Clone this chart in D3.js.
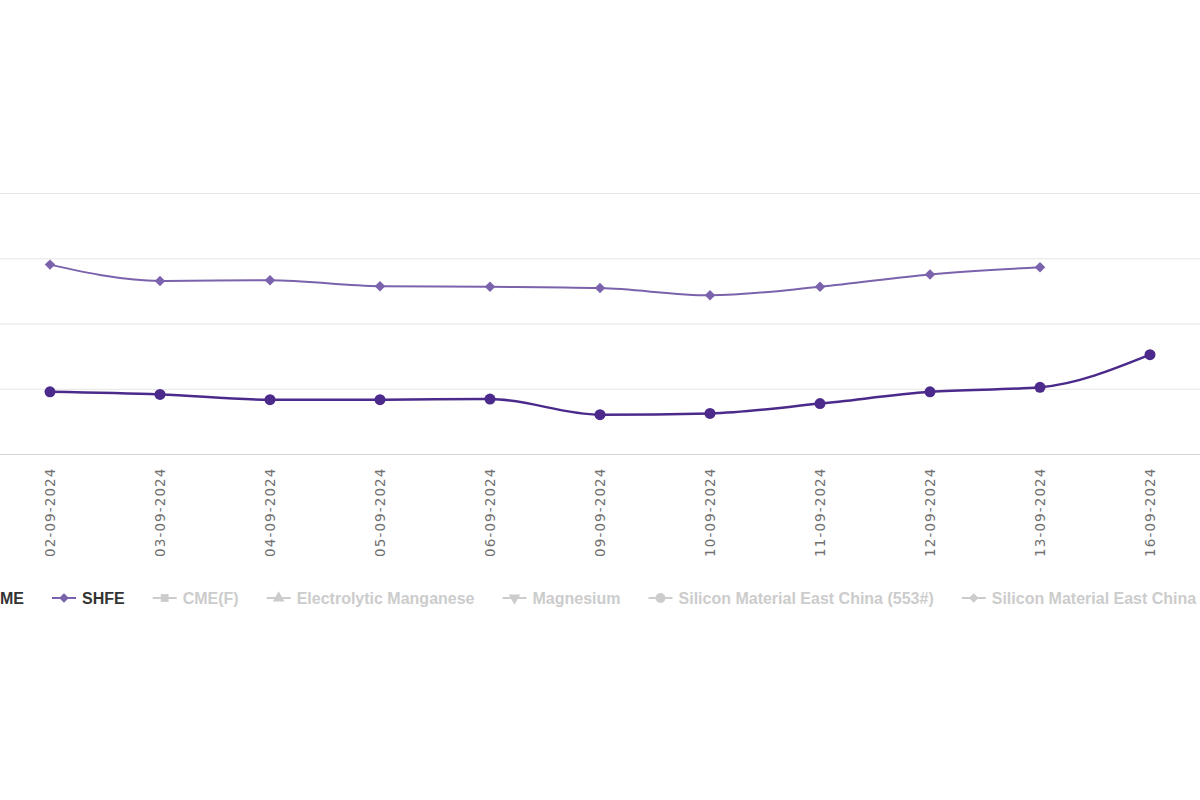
<!DOCTYPE html>
<html lang="en">
<head>
    <meta charset="UTF-8">
    <title>LME / SHFE</title>
    <script src="https://cdn.jsdelivr.net/npm/d3@7/dist/d3.min.js"></script>
    <style>
        html, body { margin: 0; padding: 0; background: #fff; overflow: hidden; }
        svg { display: block; }
    </style>
</head>
<body>

<script>
    // data (y units: one gridline step = 1)
    var dates = ["02-09-2024", "03-09-2024", "04-09-2024", "05-09-2024", "06-09-2024",
        "09-09-2024", "10-09-2024", "11-09-2024", "12-09-2024", "13-09-2024", "16-09-2024"];
    var lmeValues = [0.96, 0.92, 0.84, 0.84, 0.85, 0.61, 0.63, 0.78, 0.96, 1.03, 1.53];
    var shfeValues = [2.91, 2.66, 2.67, 2.58, 2.57, 2.55, 2.44, 2.57, 2.76, 2.87, null];
    var yTicks = [0, 1, 2, 3, 4];
    var legendNames = ["LME", "SHFE", "CME(F)", "Electrolytic Manganese", "Magnesium",
        "Silicon Material East China (553#)", "Silicon Material East China (441#)"];
    var legendActive = [true, true, false, false, false, false, false];

    var width = 1200;
    var height = 800;

    var svg = d3.select("body").append("svg")
        .attr("width", width)
        .attr("height", height);

    var x = d3.scalePoint()
        .domain(dates)
        .range([50, 1150]);

    var y = d3.scaleLinear()
        .domain([0, 4])
        .range([454.5, 193.5]);

    // gridlines
    svg.append("g")
        .selectAll("line")
        .data(yTicks.slice(1))
        .enter()
        .append("line")
        .attr("x1", 0)
        .attr("x2", width)
        .attr("y1", function (d) { return y(d); })
        .attr("y2", function (d) { return y(d); })
        .attr("stroke", "#e6e6e6")
        .attr("stroke-width", 1.2);

    // x axis
    var xAxis = d3.axisBottom(x).tickSize(0).tickPadding(0);
    var gx = svg.append("g")
        .attr("transform", "translate(0," + y(0) + ")")
        .call(xAxis);
    gx.select(".domain").remove();
    gx.append("line")
        .attr("x1", 0)
        .attr("x2", width)
        .attr("stroke", "#d4d4d4")
        .attr("stroke-width", 1.2);
    gx.selectAll(".tick text")
        .attr("transform", "rotate(-90)")
        .attr("x", -13)
        .attr("y", 0)
        .attr("dy", "0.35em")
        .style("text-anchor", "end")
        .style("font-family", "'DejaVu Sans', sans-serif")
        .style("font-size", "13.5px")
        .style("letter-spacing", "1.1px")
        .style("fill", "#707070");

    var line = d3.line()
        .defined(function (d) { return d != null; })
        .x(function (d, i) { return x(dates[i]); })
        .y(function (d) { return y(d); })
        .curve(d3.curveMonotoneX);

    var shfeColor = "#7b62ad";
    var lmeColor = "#4b2a8c";

    // SHFE
    svg.append("path")
        .attr("d", line(shfeValues))
        .attr("fill", "none")
        .attr("stroke", shfeColor)
        .attr("stroke-width", 2);

    svg.append("g")
        .selectAll("path")
        .data(shfeValues.map(function (v, i) { return {d: dates[i], v: v}; })
            .filter(function (p) { return p.v != null; }))
        .enter()
        .append("path")
        .attr("d", d3.symbol().type(d3.symbolDiamond2).size(70))
        .attr("transform", function (p) { return "translate(" + x(p.d) + "," + y(p.v) + ")"; })
        .attr("fill", shfeColor);

    // LME
    svg.append("path")
        .attr("d", line(lmeValues))
        .attr("fill", "none")
        .attr("stroke", lmeColor)
        .attr("stroke-width", 2.5);

    svg.append("g")
        .selectAll("circle")
        .data(lmeValues)
        .enter()
        .append("circle")
        .attr("cx", function (d, i) { return x(dates[i]); })
        .attr("cy", function (d) { return y(d); })
        .attr("r", 5.5)
        .attr("fill", lmeColor);

    // legend
    var symbols = ["circle", d3.symbolDiamond2, d3.symbolSquare, d3.symbolTriangle, "down", "circle", d3.symbolDiamond2];
    var legendColors = [lmeColor, shfeColor];
    var legend = svg.append("g")
        .attr("transform", "translate(0,598)");

    var items = legend.selectAll("g")
        .data(legendNames)
        .enter()
        .append("g");

    items.append("text")
        .attr("x", 30)
        .attr("dy", "0.35em")
        .style("font-family", "'Liberation Sans', Arial, sans-serif")
        .style("font-size", "16px")
        .style("font-weight", "bold")
        .style("fill", function (d, i) { return legendActive[i] ? "#333" : "#cccccc"; })
        .text(function (d) { return d; });

    items.append("line")
        .attr("x1", 0)
        .attr("x2", 24)
        .attr("stroke", function (d, i) { return legendActive[i] ? legendColors[i] : "#cccccc"; })
        .attr("stroke-width", 2);

    items.each(function (d, i) {
        var g = d3.select(this);
        var col = legendActive[i] ? legendColors[i] : "#cccccc";
        if (symbols[i] === "circle") {
            g.append("circle").attr("cx", 12).attr("r", 5).attr("fill", col);
        } else if (symbols[i] === "down") {
            g.append("path")
                .attr("d", d3.symbol().type(d3.symbolTriangle).size(60))
                .attr("transform", "translate(12,0) rotate(180)")
                .attr("fill", col);
        } else {
            g.append("path")
                .attr("d", d3.symbol().type(symbols[i]).size(60))
                .attr("transform", "translate(12,0)")
                .attr("fill", col);
        }
    });

    // lay items out left to right, SHFE starting at x=52, LME before it
    var gap = 28;
    var widths = [];
    items.select("text").each(function () { widths.push(this.getComputedTextLength()); });
    var pos = [];
    pos[1] = 52;
    pos[0] = pos[1] - gap - widths[0] - 30;
    for (var i = 2; i < legendNames.length; i++) {
        pos[i] = pos[i - 1] + 30 + widths[i - 1] + gap;
    }
    items.attr("transform", function (d, i) { return "translate(" + pos[i] + ",0)"; });
</script>
</body>
</html>
